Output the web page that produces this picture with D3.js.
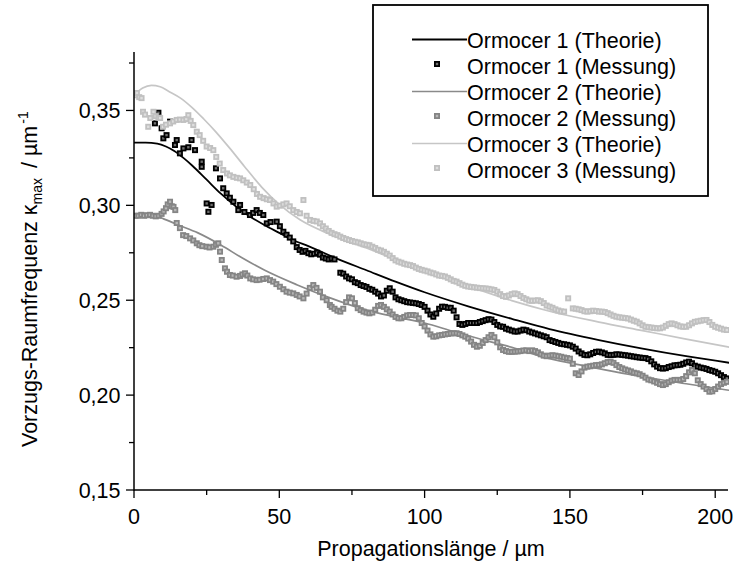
<!DOCTYPE html>
<html>
<head>
<meta charset="utf-8">
<script src="https://cdn.jsdelivr.net/npm/d3@7/dist/d3.min.js"></script>
<style>
  html, body { margin: 0; padding: 0; background: #fff; }
  svg { display: block; font-family: Arial, "Liberation Sans", sans-serif; }
</style>
</head>
<body>
<svg id="chart" width="733" height="564"></svg>
<script>
// Theoretical curves: [Propagationslänge µm, κmax µm^-1]
const ormocer1Theorie = [
  [0,0.333],[4,0.333],[8,0.3325],[11,0.331],[14,0.3285],[17,0.325],[20,0.321],[25,0.3135],
  [30,0.306],[35,0.2995],[40,0.294],[45,0.2895],[50,0.2855],[55,0.2815],[60,0.2785],[70,0.2718],
  [80,0.2658],[90,0.2598],[100,0.2542],[115,0.2468],[130,0.2402],[143,0.2348],[160,0.2290],
  [175,0.2245],[190,0.2205],[205,0.2170]
];
const ormocer2Theorie = [
  [0,0.295],[4,0.295],[7,0.2945],[10,0.293],[15,0.2898],[22,0.2855],[30,0.279],[37,0.2725],
  [45,0.2658],[56,0.2582],[67,0.2515],[80,0.2448],[90,0.2412],[100,0.238],[110,0.2335],
  [120,0.2292],[130,0.2252],[143,0.2192],[155,0.2155],[170,0.2110],[190,0.2060],[205,0.2025]
];
const ormocer3Theorie = [
  [0,0.358],[3,0.3618],[6,0.3632],[9,0.3625],[12,0.360],[16,0.3565],[20,0.3515],[24,0.3455],
  [28,0.339],[33,0.330],[38,0.3205],[44,0.3095],[50,0.3005],[57,0.2925],[67,0.285],[80,0.2775],
  [90,0.2715],[100,0.2658],[115,0.2575],[130,0.2498],[143,0.2442],[160,0.2385],[175,0.234],
  [190,0.2295],[205,0.2252]
];

// Measured values: [Propagationslänge µm, κmax µm^-1]
const ormocer1Messung = [
  [7.2,0.3432],[8.4,0.3488],[9.5,0.3406],[10.1,0.3353],[11.2,0.337],[12.4,0.3441],[14.1,0.3318],
  [14.7,0.3344],[15.8,0.3274],[17,0.33],[18.7,0.3306],[19.8,0.3344],[21,0.3291],[23.3,0.323],
  [23.3,0.3203],[25,0.301],[25.6,0.2966],[26.7,0.3002],[28.2,0.3195],[29.6,0.3142],[30.7,0.309],
  [31.9,0.3063],[33,0.304],[34.2,0.3019],[35.9,0.2975],[36.5,0.3002],[38,0.2965],[39.9,0.2949],
  [41,0.296],[42.2,0.2975],[43.3,0.296],[44.5,0.2949],[45.7,0.2905],[47,0.2912],[49.1,0.2914],
  [50.2,0.289],[51.4,0.2861],[52.5,0.2845],[53.6,0.283],[54.8,0.281],
  [56,0.278],[57,0.2765],[58,0.2755],[59,0.276],[60,0.2748],[61,0.2742],[62,0.2745],[63,0.275],
  [64,0.274],[65,0.2725],[66,0.272],[67,0.2715],[68,0.272],[69,0.2715],
  [71,0.2645],[72,0.264],[73,0.2625],[74,0.2615],[75,0.261],[76,0.2595],[77,0.259],[78,0.258],
  [79,0.2575],[80,0.257],[81,0.256],[82,0.2555],[83,0.2545],[84,0.2535],[85,0.252],[86,0.2525],
  [87,0.255],[88,0.2563],[89,0.2545],[90,0.2515],[91,0.2505],[92,0.25],[93,0.2495],[94,0.249],
  [95,0.2488],[96,0.2486],[97,0.2484],[98,0.248],[99,0.2475],[100,0.2465],[101,0.2445],[102,0.2425],
  [103,0.2413],[104,0.243],[105,0.2455],[106,0.2466],[107,0.2465],[108,0.246],[109,0.246],[110,0.2445],
  [111,0.241],[112,0.2375],[113,0.237],[114,0.2375],[115,0.238],[116,0.238],[117,0.238],[118,0.238],
  [119,0.2385],[120,0.239],[121,0.2395],[122,0.24],[123,0.2398],[124,0.2385],[125,0.237],[126,0.2362],
  [127,0.236],[128,0.235],[129,0.2345],[130,0.234],[131,0.2335],[132,0.2335],[133,0.234],[134,0.2345],
  [135,0.2342],[136,0.2335],[137,0.233],[138,0.2325],[139,0.232],[140,0.2315],[141,0.231],[142,0.2305],
  [143,0.229],[144,0.2285],[145,0.228],[146,0.2275],[147,0.227],[148,0.2268],[149,0.2265],[150,0.2262],
  [151,0.2255],[152,0.2245],[153,0.223],[154,0.222],[155,0.2212],[156,0.221],[157,0.2215],[158,0.2222],
  [159,0.2228],[160,0.2229],[161,0.2225],[162,0.222],[163,0.2212],[164,0.2211],[165,0.2212],[166,0.2215],
  [167,0.2214],[168,0.2212],[169,0.221],[170,0.2208],[171,0.2205],[172,0.2203],[173,0.22],[174,0.2198],
  [175,0.2196],[176,0.2195],[177,0.219],[178,0.2178],[179,0.2162],[180,0.215],[181,0.2142],[182,0.214],
  [183,0.2142],[184,0.2148],[185,0.2152],[186,0.2157],[187,0.2158],[188,0.216],[189,0.2165],[190,0.2172],
  [191,0.2176],[192,0.2168],[193,0.2155],[194,0.215],[195,0.2145],[196,0.2142],[197,0.2138],[198,0.2132],
  [199,0.2128],[200,0.2123],[201,0.2115],[202,0.2105],[203,0.2095],[204,0.2088]
];
const ormocer2Messung = [
  [0.5,0.2945],[1.5,0.2945],[2.5,0.295],[3.5,0.2945],[4.5,0.2948],[5.5,0.295],[6.5,0.2945],[7.5,0.2942],
  [8.5,0.2945],[9.5,0.2955],[10.2,0.2968],[11,0.2985],[11.6,0.3005],[12.4,0.3019],[13,0.2995],
  [13.6,0.2992],[14.2,0.2975],[14.7,0.2907],[15.8,0.288],[16.9,0.2843],[18,0.2838],[19.3,0.2826],
  [20.4,0.2815],[21.6,0.28],[22.5,0.279],[23.5,0.2785],[25,0.2782],[26,0.2778],[27.3,0.2782],
  [28.2,0.2792],[29,0.28],[29.6,0.2756],[30.2,0.2712],[31.3,0.2668],[32,0.265],[33,0.2633],[34,0.263],
  [35.3,0.2624],[36.5,0.2628],[37.3,0.2636],[38.2,0.2642],[39,0.263],[40,0.2615],[41,0.261],
  [42.2,0.2606],[43.2,0.2608],[44.5,0.2612],[45.7,0.2615],[46.8,0.2606],[47.9,0.2598],[49,0.2585],
  [50.2,0.2571],[51.4,0.2558],[52.5,0.2545],[53.6,0.254],[54.8,0.2536],[56,0.2528],[57,0.252],
  [58.3,0.251],[59.4,0.2535],[60.5,0.2565],[61.7,0.258],[62.8,0.2565],[64,0.2545],[65,0.2515],
  [66.3,0.25],[67.4,0.2475],
  [68,0.2465],[69,0.2455],[70,0.2445],[71,0.244],[72,0.2455],[73,0.249],[74,0.2515],[75,0.251],
  [76,0.2485],[77,0.2458],[78,0.2448],[79,0.244],[80,0.2435],[81,0.2431],[82,0.2435],[83,0.245],
  [84,0.247],[85,0.2475],[86,0.2465],[87,0.2452],[88,0.244],[89,0.2425],[90,0.2412],[91,0.2405],
  [92,0.2405],[93,0.2412],[94,0.242],[95,0.2422],[96,0.2422],[97,0.242],[98,0.2405],[99,0.238],
  [100,0.2362],[101,0.234],[102,0.232],[103,0.2308],[104,0.231],[105,0.2315],[106,0.2317],[107,0.232],
  [108,0.2322],[109,0.2325],[110,0.2326],[111,0.2326],[112,0.2322],[113,0.2315],[114,0.2308],[115,0.2298],
  [116,0.2282],[117,0.2265],[118,0.2255],[119,0.226],[120,0.2275],[121,0.229],[122,0.2305],[123,0.2317],
  [124,0.2305],[125,0.2278],[126,0.2252],[127,0.2238],[128,0.2232],[129,0.2228],[130,0.2228],[131,0.2229],
  [132,0.223],[133,0.2232],[134,0.2235],[135,0.2236],[136,0.2232],[137,0.2236],[138,0.2232],[139,0.2225],
  [140,0.2215],[141,0.2208],[142,0.2205],[143,0.2208],[144,0.221],[145,0.2208],[146,0.2205],[147,0.2202],
  [148,0.2198],[149,0.2195],[150,0.2192],[151,0.2165],[152,0.2115],[153,0.2106],[154,0.2125],[155,0.2145],
  [156,0.215],[157,0.2152],[158,0.2155],[159,0.2158],[160,0.2159],[161,0.2162],[162,0.2168],[163,0.2174],
  [164,0.2176],[165,0.217],[166,0.2158],[167,0.2148],[168,0.2141],[169,0.2135],[170,0.213],[171,0.2125],
  [172,0.2118],[173,0.2115],[174,0.211],[175,0.2102],[176,0.2092],[177,0.2082],[178,0.2078],[179,0.2072],
  [180,0.2065],[181,0.2058],[182,0.2053],[183,0.2058],[184,0.2068],[185,0.2076],[186,0.208],[187,0.208],
  [188,0.208],[189,0.2085],[190,0.21],[191,0.212],[192,0.2132],[193,0.2115],[194,0.2078],[195,0.2058],
  [196,0.2045],[197,0.2032],[198,0.2018],[199,0.202],[200,0.2032],[201,0.2045],[202,0.2058],[203,0.2065],
  [204,0.207]
];
const ormocer3Messung = [
  [0.5,0.358],[1,0.3592],[1.8,0.357],[2.6,0.3565],[3.1,0.3493],[3.8,0.3478],[4.9,0.3414],[5.6,0.346],
  [6.7,0.3493],[7.5,0.347],[8.4,0.3462],[9,0.346],[10,0.3414],[11,0.3425],[12.4,0.3432],[13.5,0.3442],
  [14.7,0.345],[15.8,0.3452],[17,0.345],[18,0.3455],[18.7,0.3475],[19.5,0.3445],[20.4,0.3423],
  [21.6,0.3388],[22.6,0.337],[23.8,0.334],[25,0.331],[26.2,0.3302],[27.3,0.3291],[28.3,0.3255],
  [29.5,0.322],[30.7,0.3186],[32,0.3168],[33,0.3158],[34.2,0.315],[35.4,0.3145],[36.5,0.3142],
  [37.6,0.3132],[38.8,0.312],[40,0.3107],[41.2,0.3085],[42.3,0.306],[43.4,0.3045],[44.6,0.3038],
  [45.7,0.3032],[46.8,0.3028],[48,0.301],[49.1,0.2993],[50.2,0.2998],[51.4,0.3005],[52.5,0.301],
  [53.6,0.2995],[54.8,0.2975],[56,0.2965],[57.1,0.2958],[58.3,0.3028],[59.4,0.2945],[60.6,0.2923],
  [61.8,0.2918],[62.9,0.2915],
  [64,0.2905],[65,0.289],[66,0.2878],[67,0.2865],[68,0.2855],[69,0.2848],[70,0.2843],[71,0.2835],
  [72,0.2828],[73,0.2822],[74,0.2817],[75,0.2812],[76,0.2808],[77,0.2805],[78,0.28],[79,0.2795],
  [80,0.2792],[81,0.279],[82,0.2782],[83,0.2775],[84,0.2766],[85,0.2762],[86,0.2755],[87,0.2745],
  [88,0.2735],[89,0.2722],[90,0.271],[91,0.2703],[92,0.2698],[93,0.2692],[94,0.2688],[95,0.2685],
  [96,0.268],[97,0.2672],[98,0.2665],[99,0.266],[100,0.2656],[101,0.2652],[102,0.2646],[103,0.2642],
  [104,0.2636],[105,0.263],[106,0.2628],[107,0.2625],[108,0.2618],[109,0.261],[110,0.2602],[111,0.2598],
  [112,0.259],[113,0.2582],[114,0.2576],[115,0.2572],[116,0.257],[117,0.2568],[118,0.2566],[119,0.2564],
  [120,0.2563],[121,0.2562],[122,0.256],[123,0.2557],[124,0.2554],[125,0.2545],[126,0.2532],[127,0.2522],
  [128,0.2518],[129,0.2525],[130,0.2532],[131,0.2536],[132,0.2532],[133,0.2522],[134,0.2512],[135,0.2505],
  [136,0.2498],[137,0.2497],[138,0.2498],[139,0.25],[140,0.2495],[141,0.2485],[142,0.2472],[143,0.2466],
  [144,0.246],[145,0.2452],[146,0.2446],[147,0.2441],[148,0.244],[149.4,0.251],
  [151,0.2457],[152,0.2455],[153,0.2452],[154,0.2448],[155,0.2442],[156,0.244],[157,0.2442],[158,0.2445],
  [159,0.2443],[160,0.244],[161,0.244],[162,0.2438],[163,0.2432],[164,0.2425],[165,0.2418],[166,0.2413],
  [167,0.241],[168,0.2408],[169,0.2406],[170,0.2404],[171,0.2398],[172,0.2392],[173,0.2387],[174,0.2378],
  [175,0.2368],[176,0.236],[177,0.2358],[178,0.2356],[179,0.2354],[180,0.2352],[181,0.2352],[182,0.2356],
  [183,0.2365],[184,0.2374],[185,0.2378],[186,0.2374],[187,0.2368],[188,0.2362],[189,0.236],[190,0.236],
  [191,0.2368],[192,0.2378],[193,0.2386],[194,0.2389],[195,0.2392],[196,0.2395],[197,0.2396],[198,0.2385],
  [199,0.237],[200,0.236],[201,0.2355],[202,0.235],[203,0.2345],[204,0.2343]
];

const seriesNames = [
  "Ormocer 1 (Theorie)", "Ormocer 1 (Messung)",
  "Ormocer 2 (Theorie)", "Ormocer 2 (Messung)",
  "Ormocer 3 (Theorie)", "Ormocer 3 (Messung)"
];
const xTicks = [0, 50, 100, 150, 200];
const yTicks = [0.15, 0.20, 0.25, 0.30, 0.35];
const xTitle = "Propagationslänge / µm";

const FS = 21.5; // font size of all chart text
const FS_SMALL = 14; // sub- and superscripts

const svg = d3.select("#chart");
const margin = { left: 134, right: 733 - 728, top: 52, bottom: 564 - 490 };
const width = 733 - margin.left - margin.right;
const height = 564 - margin.top - margin.bottom;

const x = d3.scaleLinear().domain([0, 204.4]).range([0, width]);
const y = d3.scaleLinear().domain([0.15, 0.3808]).range([height, 0]);

const g = svg.append("g").attr("transform", `translate(${margin.left},${margin.top})`);

g.append("defs").append("clipPath").attr("id", "plotClip")
  .append("rect").attr("x", 0).attr("y", -4).attr("width", width + 1).attr("height", height + 4);

const plot = g.append("g").attr("clip-path", "url(#plotClip)");

const line = d3.line().x(d => x(d[0])).y(d => y(d[1])).curve(d3.curveMonotoneX);

const series = [
  { theory: ormocer1Theorie, meas: ormocer1Messung, line: "#000000", mark: "#000000", inner: "#6e6e6e", lw: 1.8 },
  { theory: ormocer2Theorie, meas: ormocer2Messung, line: "#8a8a8a", mark: "#858585", inner: "#b8b8b8", lw: 1.7 },
  { theory: ormocer3Theorie, meas: ormocer3Messung, line: "#c6c6c6", mark: "#c0c0c0", inner: "#dedede", lw: 1.7 }
];

const markSize = 4.2;
function drawMarks(sel, data, s) {
  sel.selectAll(null).data(data).enter().append("rect")
    .attr("x", d => x(d[0]) - markSize / 2)
    .attr("y", d => y(d[1]) - markSize / 2)
    .attr("width", markSize).attr("height", markSize)
    .attr("fill", s.inner).attr("stroke", s.mark).attr("stroke-width", 1.8);
}

series.forEach(s => {
  plot.append("path").datum(s.theory)
    .attr("fill", "none").attr("stroke", s.line).attr("stroke-width", s.lw)
    .attr("d", line);
  drawMarks(plot.append("g"), s.meas, s);
});

// Axes
const xMinor = d3.range(0, 205, 25);
const yMinor = d3.range(0.15, 0.381, 0.025);

const xAxis = g.append("g").attr("transform", `translate(0,${height})`);
xAxis.append("line").attr("x1", 0).attr("x2", width).attr("stroke", "#000").attr("stroke-width", 1.5);
xAxis.selectAll(".tk").data(xMinor).enter().append("line")
  .attr("x1", d => x(d)).attr("x2", d => x(d))
  .attr("y1", 0).attr("y2", d => (d % 50 === 0 ? 8 : 5))
  .attr("stroke", "#000").attr("stroke-width", 1.3);
xAxis.selectAll(".lbl").data(xTicks).enter().append("text")
  .attr("x", d => x(d)).attr("y", 33.5)
  .attr("text-anchor", "middle").attr("font-size", FS).attr("fill", "#000")
  .text(d => d);

const yAxis = g.append("g");
yAxis.append("line").attr("y1", 0).attr("y2", height + 0.75).attr("stroke", "#000").attr("stroke-width", 1.5);
yAxis.selectAll(".tk").data(yMinor).enter().append("line")
  .attr("y1", d => y(d)).attr("y2", d => y(d))
  .attr("x1", 0).attr("x2", (d, i) => (i % 2 === 0 ? -8 : -5))
  .attr("stroke", "#000").attr("stroke-width", 1.3);
yAxis.selectAll(".lbl").data(yTicks).enter().append("text")
  .attr("x", -13.5).attr("y", d => y(d) + 7.7)
  .attr("text-anchor", "end").attr("font-size", FS).attr("fill", "#000")
  .text(d => d3.format(".2f")(d).replace(".", ","));

// Axis titles
svg.append("text")
  .attr("x", margin.left + width / 2).attr("y", 556)
  .attr("text-anchor", "middle").attr("font-size", FS).attr("fill", "#000")
  .text(xTitle);

const yTitle = svg.append("text")
  .attr("transform", "translate(37,447) rotate(-90)")
  .attr("text-anchor", "start").attr("font-size", FS).attr("fill", "#000");
yTitle.append("tspan").text("Vorzugs-Raumfrequenz κ");
yTitle.append("tspan").attr("font-size", FS_SMALL).attr("dy", 5).text("max");
yTitle.append("tspan").attr("dy", -5).attr("dx", 4).text(" / µm");
yTitle.append("tspan").attr("font-size", FS_SMALL).attr("dy", -9).attr("dx", 2).text("-1");

// Legend
const legend = svg.append("g");
legend.append("rect")
  .attr("x", 373).attr("y", 5).attr("width", 335).attr("height", 191)
  .attr("fill", "#fff").attr("stroke", "#000").attr("stroke-width", 1.8);

seriesNames.forEach((name, i) => {
  const s = series[Math.floor(i / 2)];
  const cy = 39.5 + i * 26;
  if (i % 2 === 0) {
    legend.append("line").attr("x1", 412).attr("x2", 467).attr("y1", cy).attr("y2", cy)
      .attr("stroke", s.line).attr("stroke-width", s.lw);
  } else {
    legend.append("rect").attr("x", 437 - markSize / 2).attr("y", cy - 1.5 - markSize / 2)
      .attr("width", markSize).attr("height", markSize)
      .attr("fill", s.inner).attr("stroke", s.mark).attr("stroke-width", 1.8);
  }
  legend.append("text").attr("x", 467).attr("y", cy + 8)
    .attr("font-size", FS).attr("fill", "#000").text(name);
});
</script>
</body>
</html>
